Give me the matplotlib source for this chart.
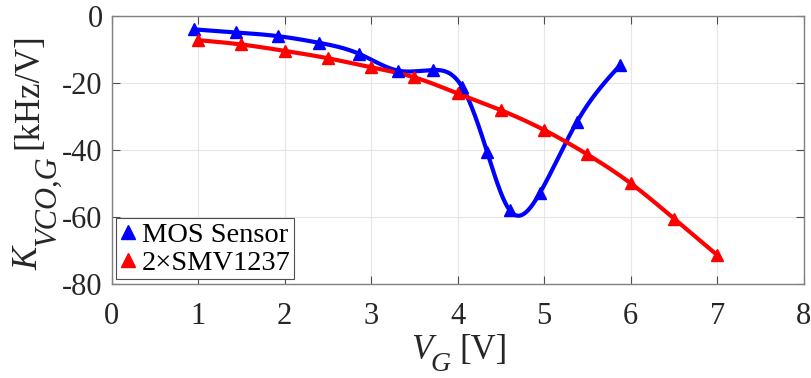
import numpy as np
import matplotlib
matplotlib.use("Agg")
import matplotlib.pyplot as plt
from matplotlib.lines import Line2D

# ---- data ----
mos_x = [0.955, 1.437, 1.919, 2.399, 2.862, 3.313, 3.72, 4.05, 4.34, 4.60, 4.95, 5.38, 5.88]
mos_y = [-4.0, -4.9, -6.0, -8.0, -11.3, -16.3, -16.1, -21.1, -40.5, -57.9, -52.8, -31.5, -14.6]
smv_x = [1.0, 1.5, 2.0, 2.5, 3.0, 3.5, 4.0, 4.5, 5.0, 5.5, 6.0, 6.5, 7.0]
smv_y = [-7.2, -8.5, -10.4, -12.6, -15.3, -18.3, -23.1, -28.1, -34.0, -41.3, -49.9, -60.4, -71.3]
labels = ["MOS Sensor", "2\u00d7SMV1237"]
xticks = [0, 1, 2, 3, 4, 5, 6, 7, 8]
yticks = [0, -20, -40, -60, -80]


def spline(x, y, n=400):
    """Natural cubic spline drawn through the given points (for a smooth line)."""
    x = np.asarray(x, float); y = np.asarray(y, float)
    m = len(x); h = np.diff(x)
    A = np.zeros((m, m)); b = np.zeros(m)
    A[0, 0] = A[-1, -1] = 1
    for i in range(1, m - 1):
        A[i, i - 1] = h[i - 1]; A[i, i] = 2 * (h[i - 1] + h[i]); A[i, i + 1] = h[i]
        b[i] = 3 * ((y[i + 1] - y[i]) / h[i] - (y[i] - y[i - 1]) / h[i - 1])
    c = np.linalg.solve(A, b)
    xs = np.linspace(x[0], x[-1], n)
    idx = np.clip(np.searchsorted(x, xs) - 1, 0, m - 2)
    dx = xs - x[idx]
    bb = (y[1:] - y[:-1]) / h - h * (2 * c[:-1] + c[1:]) / 3
    d = (c[1:] - c[:-1]) / (3 * h)
    ys = y[idx] + bb[idx] * dx + c[idx] * dx ** 2 + d[idx] * dx ** 3
    return xs, ys


plt.rcParams['font.family'] = ['Liberation Serif', 'DejaVu Serif']

W, H = 811, 378
fig = plt.figure(figsize=(W / 100, H / 100), dpi=100)
ax = fig.add_axes([0.1377, 0.248, 0.8533, 0.7097])

blue = (0, 0, 1)
red = (1, 0, 0)
for xd, yd, col in [(mos_x, mos_y, blue), (smv_x, smv_y, red)]:
    xs, ys = spline(xd, yd)
    ax.plot(xs, ys, color=col, lw=3, solid_capstyle='round', zorder=3)
    ax.plot(xd, yd, ls='none', marker='^', ms=9, color=col, mec=col, zorder=4)

ax.set_xlim(0, 8)
ax.set_ylim(-80, 0)
ax.set_xticks(xticks)
ax.set_yticks(yticks)
ax.set_yticklabels([str(v) for v in yticks])
ax.grid(True, color=(0.9, 0.9, 0.9), lw=0.8)
ax.set_axisbelow(True)
for s in ax.spines.values():
    s.set_color((0.5, 0.5, 0.5))
    s.set_linewidth(1)
ax.tick_params(direction='in', length=6, width=0.8, color=(0.3, 0.3, 0.3),
               top=True, right=True, labelsize=22, labelcolor=(0.15, 0.15, 0.15))
ax.tick_params(axis='x', pad=13)
ax.tick_params(axis='y', pad=6.5)

tc = (0.15, 0.15, 0.15)


def ftxt(px, py, s, size, style='normal', rot=0):
    fig.text(px / W, 1 - py / H, s, fontsize=size, style=style, color=tc,
             ha='left', va='baseline', rotation=rot, rotation_mode='anchor')


# x label: V_G [V]
ftxt(411, 359, 'V', 25, 'italic')
ftxt(430, 371, 'G', 20, 'italic')
ftxt(459, 359, '[V]', 25)

# y label: K_{VCO,G} [kHz/V]  (rotated)
ftxt(37, 270, 'K', 25, 'italic', 90)
ftxt(55, 246, 'VCO,G', 22, 'italic', 90)
ftxt(37, 149, '[kHz/V]', 25, 'normal', 90)

handles = [Line2D([], [], ls='none', marker='^', ms=10, color=blue),
           Line2D([], [], ls='none', marker='^', ms=10, color=red)]
leg = ax.legend(handles, labels, loc='lower left', bbox_to_anchor=(0.006, 0.018),
                fontsize=20.5, frameon=True, fancybox=False, edgecolor=(0.3, 0.3, 0.3),
                handlelength=0.6, handletextpad=0.2, borderpad=0.12, labelspacing=0.08,
                borderaxespad=0.0, framealpha=1)
leg.get_frame().set_linewidth(0.8)

fig.savefig('out.png', dpi=100)
